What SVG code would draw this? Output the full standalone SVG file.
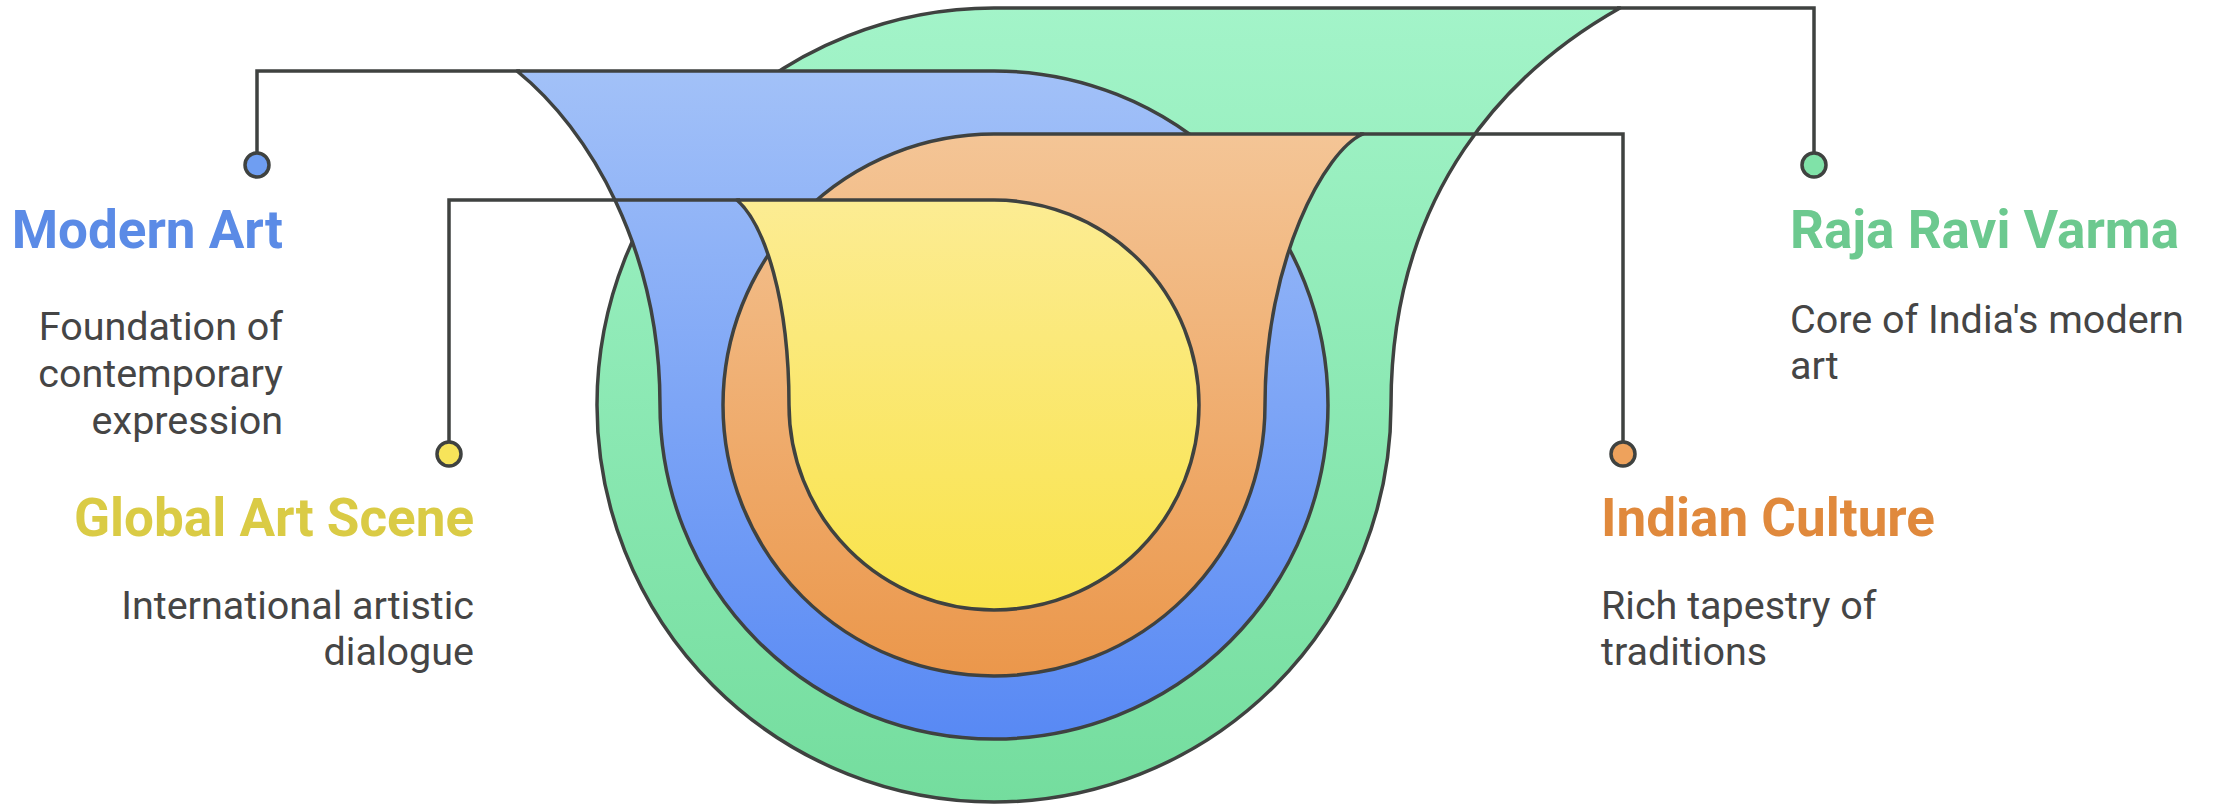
<svg xmlns="http://www.w3.org/2000/svg" width="2217" height="806" viewBox="0 0 2217 806">
  <defs>
    <linearGradient id="gGreen" x1="0" y1="0" x2="0" y2="1">
      <stop offset="0" stop-color="#a3f4c9"/>
      <stop offset="1" stop-color="#74dd9e"/>
    </linearGradient>
    <linearGradient id="gBlue" x1="0" y1="0" x2="0" y2="1">
      <stop offset="0" stop-color="#a2c1f8"/>
      <stop offset="1" stop-color="#5889f4"/>
    </linearGradient>
    <linearGradient id="gOrange" x1="0" y1="0" x2="0" y2="1">
      <stop offset="0" stop-color="#f4c596"/>
      <stop offset="1" stop-color="#eb974b"/>
    </linearGradient>
    <linearGradient id="gYellow" x1="0" y1="0" x2="0" y2="1">
      <stop offset="0" stop-color="#fcec93"/>
      <stop offset="1" stop-color="#f9e349"/>
    </linearGradient>
  </defs>
  <style>
    .shape { stroke: #3f4240; stroke-width: 3.5; stroke-linejoin: round; }
    .conn { fill: none; stroke: #3f4240; stroke-width: 3.5; }
    .dot { stroke: #3f4240; stroke-width: 3.5; }
    .title { font-family: Roboto, "Liberation Sans", sans-serif; font-weight: 700; font-size: 53px; }
    .desc { font-family: Roboto, "Liberation Sans", sans-serif; font-size: 39.5px; fill: #454545; }
  </style>
  <rect width="2217" height="806" fill="#ffffff"/>

  <g id="raja-ravi-varma-shape">
    <path class="shape" fill="url(#gGreen)" d="M1620 8 L994 8 A397 397 0 1 0 1391 405 C1391 190 1510 70 1620 8 Z"/>
  </g>
  <g id="modern-art-shape">
    <path class="shape" fill="url(#gBlue)" d="M517 71 L994 71 A334 334 0 1 1 660 405 C660 250 590 130 517 71 Z"/>
  </g>
  <g id="indian-culture-shape">
    <path class="shape" fill="url(#gOrange)" d="M1363 134 L994 134 A271 271 0 1 0 1265 405 C1265 260 1325 150 1363 134 Z"/>
  </g>
  <g id="global-art-scene-shape">
    <path class="shape" fill="url(#gYellow)" d="M737 200 L994 200 A205 205 0 1 1 789 405 C789 300 765 225 737 200 Z"/>
  </g>

  <g id="connectors">
    <path class="conn" d="M257 152 V71 H520"/>
    <path class="conn" d="M449 441 V200 H740"/>
    <path class="conn" d="M1360 134 H1623 V441"/>
    <path class="conn" d="M1617 8 H1814 V152"/>
  </g>

  <g id="modern-art">
    <circle class="dot" cx="257" cy="165" r="12" fill="#6f9ef2"/>
    <text class="title" x="283" y="248" text-anchor="end" fill="#5b8be6">Modern Art</text>
    <text class="desc" text-anchor="end"><tspan x="283" y="340">Foundation of</tspan><tspan x="283" y="387">contemporary</tspan><tspan x="283" y="434">expression</tspan></text>
  </g>
  <g id="global-art-scene">
    <circle class="dot" cx="449" cy="454" r="12" fill="#f7e45a"/>
    <text class="title" x="474" y="536" text-anchor="end" fill="#dacb45">Global Art Scene</text>
    <text class="desc" text-anchor="end"><tspan x="474" y="619">International artistic</tspan><tspan x="474" y="665">dialogue</tspan></text>
  </g>
  <g id="raja-ravi-varma">
    <circle class="dot" cx="1814" cy="165" r="12" fill="#80e2a8"/>
    <text class="title" x="1790" y="248" fill="#6cc98f">Raja Ravi Varma</text>
    <text class="desc"><tspan x="1790" y="333">Core of India's modern</tspan><tspan x="1790" y="379">art</tspan></text>
  </g>
  <g id="indian-culture">
    <circle class="dot" cx="1623" cy="454" r="12" fill="#eea25c"/>
    <text class="title" x="1601" y="536" fill="#e0893c">Indian Culture</text>
    <text class="desc"><tspan x="1601" y="619">Rich tapestry of</tspan><tspan x="1601" y="665">traditions</tspan></text>
  </g>
</svg>
